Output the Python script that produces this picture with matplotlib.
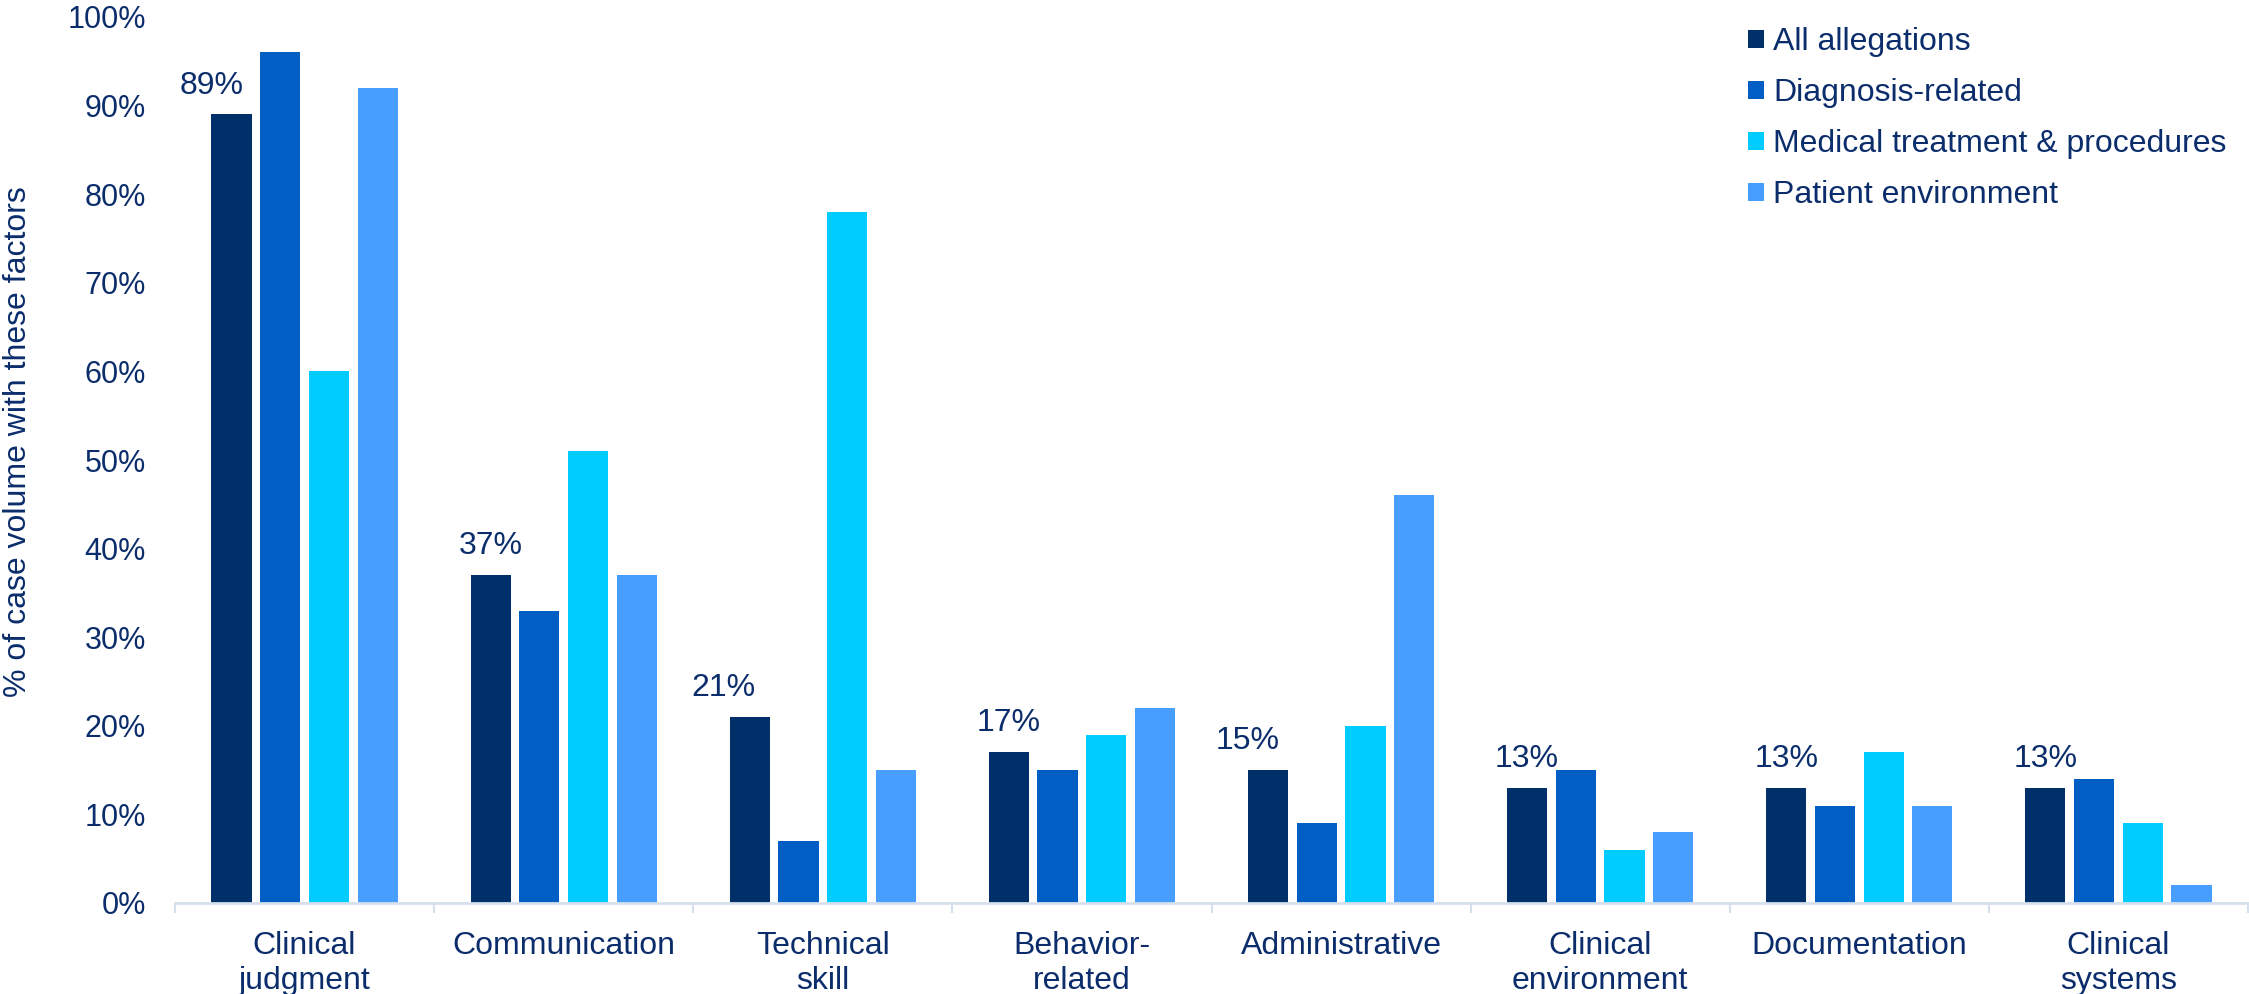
import matplotlib
matplotlib.use("Agg")
import matplotlib.pyplot as plt
import numpy as np
from matplotlib.patches import Patch

plt.rcParams["font.family"] = ["Liberation Sans", "DejaVu Sans"]

categories = [
    "Clinical\njudgment", "Communication", "Technical\nskill", "Behavior-\nrelated",
    "Administrative", "Clinical\nenvironment", "Documentation", "Clinical\nsystems",
]
series_names = ["All allegations", "Diagnosis-related", "Medical treatment & procedures", "Patient environment"]
all_allegations = [89, 37, 21, 17, 15, 13, 13, 13]
diagnosis_related = [96, 33, 7, 15, 9, 15, 11, 14]
medical_treatment = [60, 51, 78, 19, 20, 6, 17, 9]
patient_environment = [92, 37, 15, 22, 46, 8, 11, 2]
y_ticks = [0, 10, 20, 30, 40, 50, 60, 70, 80, 90, 100]

colors = ["#003069", "#005EC4", "#00CCFF", "#489EFF"]
text_color = "#0B2D6B"
axis_color = "#D6E0EC"
# horizontal nudge (points) for the value labels on the first series
label_dx = [-14, 0, -19, 0, -15, 0, 0, 0]

fig = plt.figure(figsize=(22.49, 9.94), dpi=100)
ax = fig.add_axes([175 / 2249, 91 / 994, 2073 / 2249, 886 / 994])

x = np.arange(len(categories))
step = 0.188
width = 0.155
series = [all_allegations, diagnosis_related, medical_treatment, patient_environment]
for i, (vals, col) in enumerate(zip(series, colors)):
    ax.bar(x + (i - 1.5) * step, vals, width=width, color=col, zorder=2)

for xi, v, dx in zip(x, all_allegations, label_dx):
    ax.annotate(f"{v}%", (xi - 1.5 * step, v), xytext=(dx, 10), textcoords="offset points",
                ha="center", va="bottom", fontsize=23, color=text_color)

ax.set_xlim(-0.5, len(categories) - 0.5)
ax.set_ylim(0, 100)
ax.set_yticks(y_ticks)
ax.set_yticklabels([f"{t}%" for t in y_ticks])
ax.set_xticks(x)
ax.set_xticklabels(categories, linespacing=1.24)
ax.set_xticks(np.arange(-0.5, len(categories), 1), minor=True)

ax.tick_params(axis="y", length=0, pad=21, labelsize=22, labelcolor=text_color)
ax.tick_params(axis="x", which="major", length=0, pad=20, labelsize=23, labelcolor=text_color)
ax.tick_params(axis="x", which="minor", length=7, width=1.5, color=axis_color)

for side in ["top", "right", "left"]:
    ax.spines[side].set_visible(False)
ax.spines["bottom"].set_color(axis_color)
ax.spines["bottom"].set_linewidth(2)

fig.text(18 / 2249, 1 - 442 / 994, "% of case volume with these factors", rotation=90,
         ha="center", va="center", fontsize=23, color=text_color)

handles = [Patch(facecolor=c, edgecolor="none") for c in colors]
fig.legend(handles, series_names, loc="upper left", bbox_to_anchor=(1748 / 2249, 1 - 27 / 994),
           frameon=False, fontsize=23, labelcolor=text_color, handlelength=0.5, handleheight=0.5,
           handletextpad=0.28, labelspacing=0.66, borderpad=0, borderaxespad=0)

fig.savefig("out.png", dpi=100)
